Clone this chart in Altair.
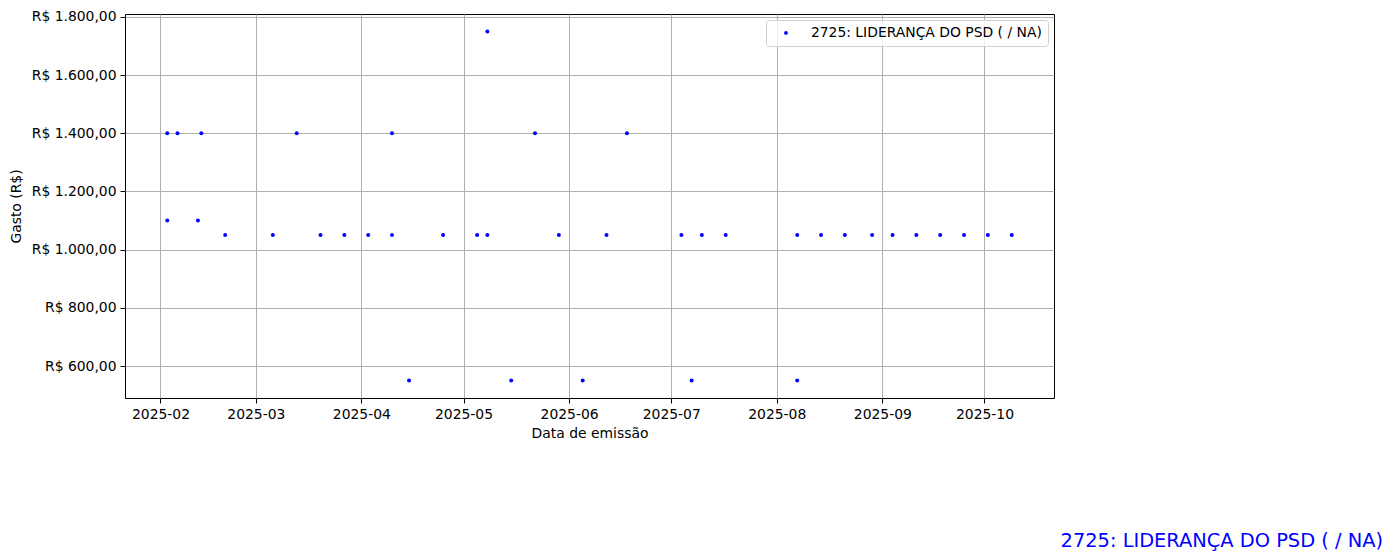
import altair as alt
import pandas as pd

SERIES = "2725: LIDERANÇA DO PSD ( / NA)"

dates = [
    "2025-02-03", "2025-02-06", "2025-02-13", "2025-03-13", "2025-04-10", "2025-05-22", "2025-06-18",
    "2025-05-08",
    "2025-02-03", "2025-02-12",
    "2025-02-20", "2025-03-06", "2025-03-20", "2025-03-27", "2025-04-03", "2025-04-10",
    "2025-04-25", "2025-05-05", "2025-05-08", "2025-05-29", "2025-06-12", "2025-07-04",
    "2025-07-10", "2025-07-17", "2025-08-07", "2025-08-14", "2025-08-21", "2025-08-29",
    "2025-09-04", "2025-09-11", "2025-09-18", "2025-09-25", "2025-10-02", "2025-10-09",
    "2025-04-15", "2025-05-15", "2025-06-05", "2025-07-07", "2025-08-07",
]
values = (
    [1400] * 7
    + [1750]
    + [1100] * 2
    + [1050] * 24
    + [550] * 5
)
y_ticks = [600, 800, 1000, 1200, 1400, 1600, 1800]
x_tick_months = [2, 3, 4, 5, 6, 7, 8, 9, 10]

df = pd.DataFrame({"date": dates, "gasto": values, "serie": [SERIES] * len(dates)})

FONT = "DejaVu Sans"

points = alt.Chart(df).mark_circle(size=16, opacity=1).encode(
    x=alt.X(
        "date:T",
        title="Data de emissão",
        scale=alt.Scale(
            type="utc",
            domain=[
                alt.DateTime(year=2025, month=1, date=21, hours=14, utc=True),
                alt.DateTime(year=2025, month=10, date=21, hours=10, utc=True),
            ],
        ),
        axis=alt.Axis(
            values=[alt.DateTime(year=2025, month=m, date=1, utc=True) for m in x_tick_months],
            format="%Y-%m",
            titlePadding=6,
        ),
    ),
    y=alt.Y(
        "gasto:Q",
        title="Gasto (R$)",
        scale=alt.Scale(domain=[490, 1810], nice=False, zero=False),
        axis=alt.Axis(
            values=y_ticks,
            labelExpr="'R$ ' + replace(replace(replace(format(datum.value, ',.2f'), ',', '_'), '.', ','), '_', '.')",
            titlePadding=8,
        ),
    ),
    color=alt.Color(
        "serie:N",
        scale=alt.Scale(domain=[SERIES], range=["#0000ff"]),
        legend=alt.Legend(
            title=None,
            orient="top-right",
            offset=6,
            padding=6,
            fillColor="rgba(255,255,255,0.8)",
            strokeColor="#d0d0d0",
            cornerRadius=3,
            labelFont=FONT,
            labelFontSize=13.9,
            labelColor="black",
            labelLimit=0,
            symbolType="circle",
            symbolSize=14,
            symbolOffset=7,
            labelOffset=18,
        ),
    ),
)

note = alt.Chart(pd.DataFrame({"t": [SERIES]})).mark_text(
    align="right", baseline="alphabetic", fontSize=19.4, color="#0000ff", font=FONT
).encode(
    x=alt.value(1258),
    y=alt.value(533),
    text="t:N",
)

chart = (
    alt.layer(points, note)
    .properties(
        width=929,
        height=384,
        autosize=alt.AutoSizeParams(type="none"),
        padding={"left": 117, "top": 6, "right": 330, "bottom": 156},
        background="white",
    )
    .configure_view(stroke="black", strokeWidth=1)
    .configure_axis(
        zindex=1,
        domain=False,
        grid=True,
        gridColor="#b0b0b0",
        gridWidth=1,
        tickColor="black",
        tickSize=5,
        tickWidth=1,
        labelPadding=4,
        labelFont=FONT,
        labelFontSize=13.9,
        labelColor="black",
        titleFont=FONT,
        titleFontSize=13.9,
        titleFontWeight="normal",
        titleColor="black",
    )
)

chart.save("out.html", embed_options={"renderer": "svg", "actions": False})
